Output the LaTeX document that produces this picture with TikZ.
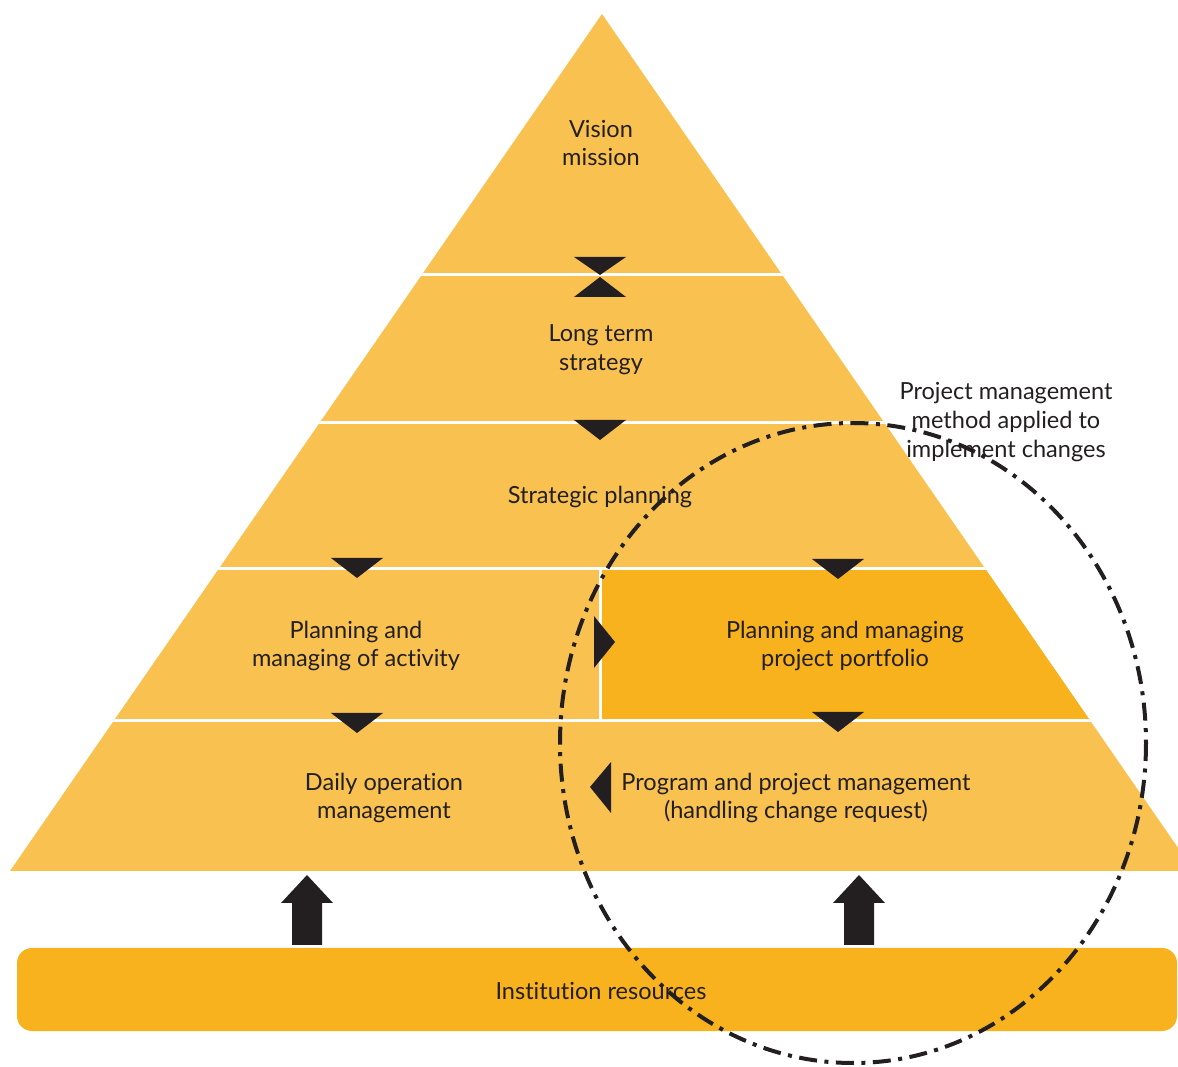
\documentclass[tikz,border=0pt]{standalone}
\usepackage{fontspec}
\setmainfont{Lato}[Ligatures={NoCommon,NoRare}]
\usetikzlibrary{positioning}
\definecolor{lightorange}{RGB}{249,194,80}
\definecolor{darkorange}{RGB}{247,178,30}
\definecolor{inkgray}{RGB}{35,31,32}

\begin{document}
\begin{tikzpicture}[
x=0.02cm, y=-0.02cm,
font=\fontsize{13.4}{16.4}\selectfont,
label/.style={align=center,text=inkgray,inner sep=0pt},
separator/.style={draw=white,line width=0.06cm},
marker/.style={fill=inkgray,draw=none},
circled/.style={draw=inkgray,line width=0.08cm,dash pattern=on 0.36cm off 0.15cm on 0.08cm off 0.15cm}
]
\useasboundingbox (0,0) rectangle (1178,1067);
\clip (0,0) rectangle (1178,1067);

% Pyramid body
\begin{scope}
\clip (602,14) -- (10,871) -- (1194,871) -- cycle;
\fill [lightorange] (0,0) rectangle (1200,871);
\fill [darkorange] (601,570) rectangle (1200,721);
\draw [separator] (0,275) -- (1200,275);
\draw [separator] (0,423) -- (1200,423);
\draw [separator] (0,569) -- (1200,569);
\draw [separator] (0,721) -- (1200,721);
\draw [separator] (600,569) -- (600,721);
\end{scope}

% Flow markers
\fill [marker] (574,257) -- (626,257) -- (600,275) -- cycle;
\fill [marker] (574,297) -- (626,297) -- (600,277) -- cycle;
\fill [marker] (574,420) -- (626,420) -- (600,440) -- cycle;
\fill [marker] (331,558) -- (383,558) -- (357,578) -- cycle;
\fill [marker] (812,559) -- (864,559) -- (838,579) -- cycle;
\fill [marker] (331,713) -- (383,713) -- (357,733) -- cycle;
\fill [marker] (812,712) -- (864,712) -- (838,732) -- cycle;
\fill [marker] (594,616) -- (615,642) -- (594,668) -- cycle;
\fill [marker] (611,762) -- (590,787) -- (611,813) -- cycle;

% Levels
\node [label] (vision) at (601,143) {Vision\\mission};
\node [label] (longterm) at (601,350) {Long term\\strategy};
\node [label] (strategic) at (600,497) {Strategic planning};
\node [label] (activity) at (356,646) {Planning and\\managing of activity};
\node [label] (portfolio) at (845,646) {Planning and managing\\project portfolio};
\node [label] (daily) at (384,798) {Daily operation\\management};
\node [label] (program) at (796,798) {Program and project management\\(handling change request)};

% Resources
\fill [darkorange, rounded corners=0.3cm] (17,948) rectangle (1177,1031);
\node [label] (resources) at (601,991) {Institution resources};
\fill [marker] (307,875) -- (333,903) -- (322,903) -- (322,945) -- (292,945) -- (292,903) -- (281,903) -- cycle;
\fill [marker] (859,875) -- (885,903) -- (874,903) -- (874,945) -- (844,945) -- (844,903) -- (833,903) -- cycle;

% Project management scope
\node [label] (method) at (1006,422) {Project management\\method applied to\\implement changes};
\draw [circled] (853,743) ellipse [x radius=293, y radius=320];
\end{tikzpicture}
\end{document}
